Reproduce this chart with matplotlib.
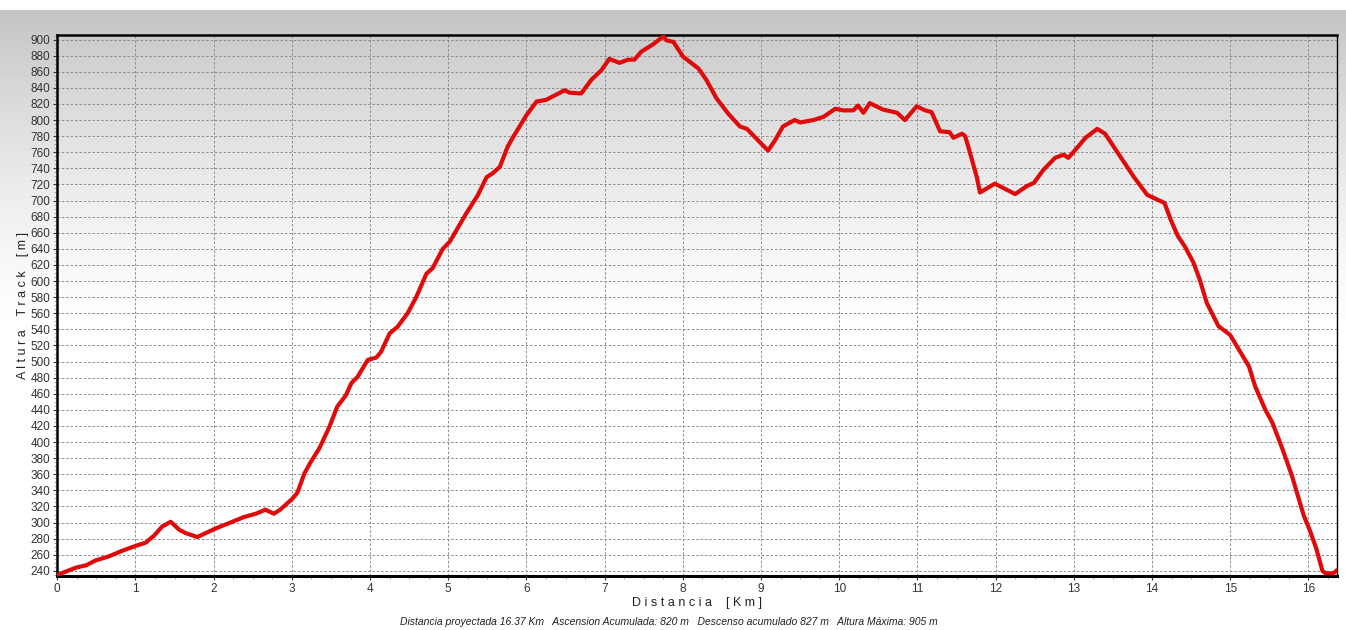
import numpy as np
import matplotlib
matplotlib.use("Agg")
import matplotlib.pyplot as plt
from matplotlib.ticker import MultipleLocator

plt.rcParams['font.family'] = ['Liberation Sans', 'DejaVu Sans']

# Track profile (km, m)
distancia = [0.00, 0.24, 0.37, 0.49, 0.66, 0.83, 1.00, 1.13, 1.24, 1.34, 1.45, 1.56, 1.64,
             1.79, 1.90, 2.01, 2.11, 2.24, 2.39, 2.54, 2.66, 2.77, 2.85, 3.00, 3.07, 3.16,
             3.24, 3.35, 3.48, 3.58, 3.69, 3.76, 3.84, 3.97, 4.08, 4.14, 4.25, 4.35, 4.48,
             4.59, 4.72, 4.80, 4.93, 5.02, 5.23, 5.38, 5.49, 5.57, 5.66, 5.76, 5.83, 6.00,
             6.13, 6.25, 6.49, 6.55, 6.70, 6.83, 6.96, 7.06, 7.19, 7.30, 7.38, 7.47, 7.62,
             7.75, 7.79, 7.88, 8.00, 8.20, 8.30, 8.43, 8.58, 8.73, 8.82, 8.94, 9.09, 9.18,
             9.28, 9.43, 9.50, 9.67, 9.80, 9.95, 10.05, 10.18, 10.24, 10.31, 10.39, 10.56,
             10.74, 10.84, 10.99, 11.10, 11.18, 11.29, 11.41, 11.46, 11.57, 11.61, 11.65,
             11.76, 11.80, 11.99, 12.25, 12.40, 12.49, 12.61, 12.76, 12.87, 12.93, 13.02,
             13.15, 13.30, 13.40, 13.51, 13.64, 13.77, 13.94, 14.05, 14.16, 14.24, 14.33,
             14.42, 14.53, 14.61, 14.70, 14.85, 15.00, 15.11, 15.24, 15.32, 15.45, 15.54,
             15.67, 15.79, 15.94, 16.02, 16.10, 16.18, 16.22, 16.32, 16.37]
altura = [235, 244, 247, 253, 258, 265, 271, 275, 284, 295, 301, 291, 287,
          282, 287, 292, 296, 301, 307, 311, 316, 311, 316, 329, 337, 361,
          375, 392, 419, 444, 458, 473, 481, 502, 505, 512, 535, 543, 560,
          580, 609, 616, 640, 649, 684, 707, 729, 734, 742, 767, 779, 806,
          823, 825, 837, 834, 833, 850, 862, 876, 871, 875, 875, 885, 894,
          904, 899, 897, 879, 864, 850, 827, 808, 792, 789, 777, 762, 775,
          792, 800, 797, 800, 804, 814, 812, 812, 818, 809, 821, 813,
          809, 800, 817, 812, 810, 786, 785, 778, 783, 780, 767,
          729, 710, 721, 708, 718, 722, 738, 753, 757, 753, 763,
          778, 789, 783, 767, 748, 729, 707, 702, 697, 676, 656,
          643, 623, 602, 573, 544, 533, 515, 494, 469, 440, 424,
          391, 358, 309, 290, 268, 240, 237, 237, 241]

resumen = ("Distancia proyectada 16.37 Km   Ascension Acumulada: 820 m   "
           "Descenso acumulado 827 m   Altura Máxima: 905 m")

W, H = 1346, 630
fig = plt.figure(figsize=(W / 100, H / 100), dpi=100)

# grey-to-white background, white strip at the very top
rows = np.arange(H)
t = np.clip((rows - 10) / 330, 0, 1)
shade = 0.77 + 0.23 * (1 - (1 - t) ** 1.4)
shade[rows < 10] = 1.0
bg_ax = fig.add_axes([0, 0, 1, 1], zorder=-1)
bg_ax.imshow(np.repeat(shade[:, None], 4, axis=1), cmap='gray', vmin=0, vmax=1,
             aspect='auto', extent=[0, 1, 0, 1])
bg_ax.axis('off')

ax = fig.add_axes([57.3 / W, 1 - 575.7 / H, 1280 / W, 541 / H])
ax.set_facecolor('none')
ax.plot(distancia, altura, color='#e00a0a', lw=3.0, solid_joinstyle='round', zorder=3)

ax.set_xlim(0, 16.37)
ax.set_ylim(234, 906)
ax.xaxis.set_major_locator(MultipleLocator(1))
ax.xaxis.set_minor_locator(MultipleLocator(0.25))
ax.yaxis.set_major_locator(MultipleLocator(20))
ax.yaxis.set_minor_locator(MultipleLocator(5))

ax.grid(True, which='major', color='#8c8c8c', linestyle=(0, (2.5, 2)), linewidth=0.7)
ax.tick_params(which='major', length=3, width=0.8, color='#333333',
               labelsize=8.5, labelcolor='#333333', pad=2)
ax.tick_params(which='minor', length=2, width=0.6, color='#999999')

for side, lw in [('top', 1.8), ('bottom', 2.2), ('left', 1.8), ('right', 1.0)]:
    ax.spines[side].set_linewidth(lw)
    ax.spines[side].set_color('black')

ax.set_xlabel("D i s t a n c i a    [ K m ]", fontsize=9, color='#222222', labelpad=2)
ax.set_ylabel("A l t u r a    T r a c k    [ m ]", fontsize=9, color='#222222', labelpad=1)

fig.text(0.497, 1 - 622 / H, resumen, ha='center', va='center', fontsize=7.5,
         style='italic', color='#222222')

fig.savefig("out.png", dpi=100)
